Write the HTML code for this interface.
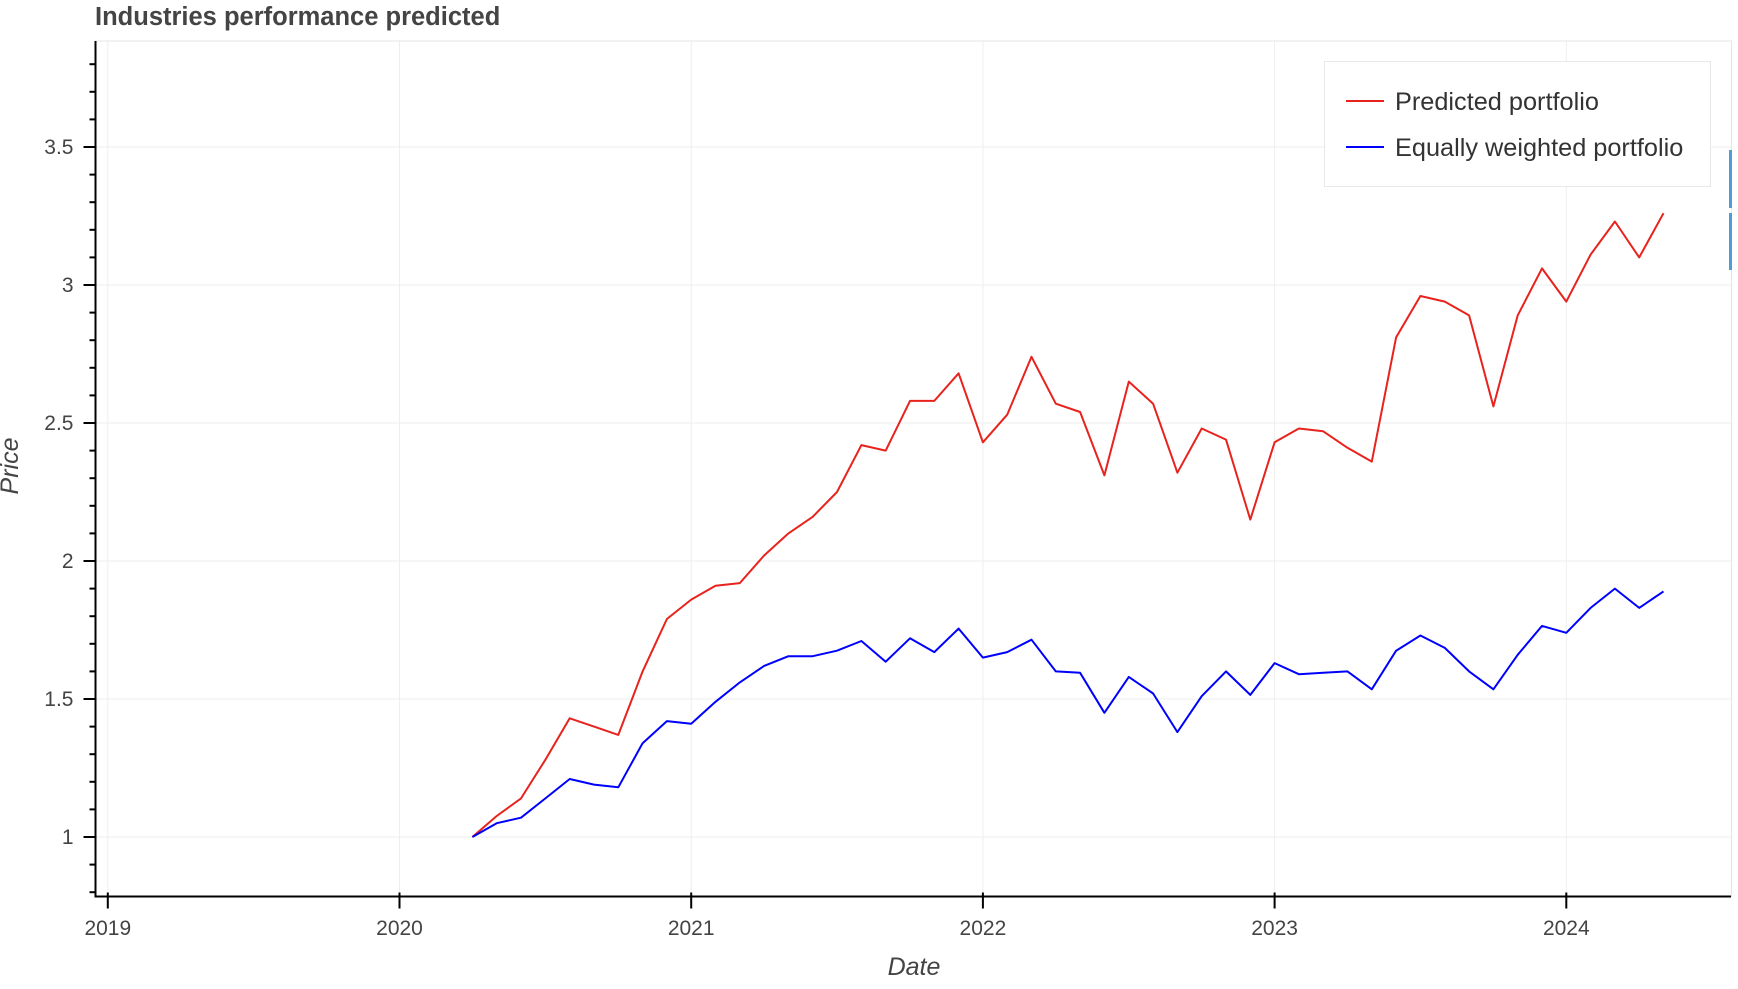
<!DOCTYPE html>
<html><head><meta charset="utf-8"><style>
html,body{margin:0;padding:0;background:#fff;}
svg text{font-family:"Liberation Sans",sans-serif;}
</style></head><body>
<svg id="chart" width="1738" height="984" xmlns="http://www.w3.org/2000/svg">
<text x="95" y="25" font-size="25.5" font-weight="bold" fill="#444">Industries performance predicted</text>
<g id="grid"></g>
<rect x="95.5" y="41" width="1636" height="855.5" fill="none" stroke="#e5e5e5"/>
<g id="series"></g>
<g id="axes"></g>
<text transform="translate(18,466) rotate(-90)" text-anchor="middle" font-size="25" font-style="italic" fill="#444">Price</text>
<text x="914" y="975" text-anchor="middle" font-size="25" font-style="italic" fill="#444">Date</text>
<g>
<rect x="1324.5" y="61.5" width="386" height="125" fill="#fff" stroke="#e8e8e8"/>
<line x1="1346" y1="101" x2="1384" y2="101" stroke="#e8221c" stroke-width="2"/>
<text x="1395" y="110" font-size="25.3" fill="#333">Predicted portfolio</text>
<line x1="1346" y1="147" x2="1384" y2="147" stroke="#0000ff" stroke-width="2"/>
<text x="1395" y="156" font-size="25.3" fill="#333">Equally weighted portfolio</text>
</g>
<rect x="1729" y="150" width="3" height="58" fill="#4a9fd8"/>
<rect x="1729" y="213" width="3" height="57" fill="#4a9fd8"/>
</svg>
<script>
const yTicks = [1, 1.5, 2, 2.5, 3, 3.5];
const yTickLabels = ["1", "1.5", "2", "2.5", "3", "3.5"];
const xTicks = [2019, 2020, 2021, 2022, 2023, 2024];
const xTickLabels = ["2019", "2020", "2021", "2022", "2023", "2024"];
const startYear = 2020, startMonth = 3;
const predicted = [1.00,1.076,1.14,1.28,1.43,1.40,1.37,1.60,1.79,1.86,1.91,1.92,2.02,2.10,2.16,2.25,2.42,2.40,2.58,2.58,2.68,2.43,2.53,2.74,2.57,2.54,2.31,2.65,2.57,2.32,2.48,2.44,2.15,2.43,2.48,2.47,2.41,2.36,2.81,2.96,2.94,2.89,2.56,2.89,3.06,2.94,3.11,3.23,3.10,3.26];
const equal = [1.00,1.05,1.07,1.14,1.21,1.19,1.18,1.34,1.42,1.41,1.49,1.56,1.62,1.655,1.655,1.675,1.71,1.635,1.72,1.67,1.755,1.65,1.67,1.715,1.60,1.595,1.45,1.58,1.52,1.38,1.51,1.60,1.515,1.63,1.59,1.595,1.60,1.535,1.675,1.73,1.685,1.60,1.535,1.66,1.765,1.74,1.83,1.90,1.83,1.89];

const NS = "http://www.w3.org/2000/svg";
const L = 95.5, R = 1731, T = 41, B = 896.5;
function yS(v){ return 837 - (v - 1) * 276; }
function xS(t){ return 399.5 + (t - 2020) * 291.7; }
function mk(tag, attrs, parent){ const e = document.createElementNS(NS, tag); for (const k in attrs) e.setAttribute(k, attrs[k]); parent.appendChild(e); return e; }
const grid = document.getElementById('grid'), axes = document.getElementById('axes'), series = document.getElementById('series');

yTicks.forEach((v, i) => {
  const g = mk('line', {x1:L, x2:R, y1:yS(v), y2:yS(v), stroke:'#eeeeee', 'stroke-width':1}, grid);
  
  
  const t = mk('line', {x1:L-12, x2:L, y1:yS(v), y2:yS(v), stroke:'#000', 'stroke-width':2}, axes);
  
  
  const lb = mk('text', {x:L-22, y:yS(v)+7, 'text-anchor':'end', 'font-size':21, fill:'#444'}, axes);
  lb.textContent = yTickLabels[i];
  
  
});
for (let v = 0.8; v <= 3.85; v += 0.1) {
  const y = yS(v);
  if (y < T || y > B) continue;
  const m = mk('line', {x1:L-6, x2:L, y1:y, y2:y, stroke:'#000', 'stroke-width':2}, axes);
  
  
}
xTicks.forEach((v, i) => {
  const x = xS(v);
  const g = mk('line', {x1:x, x2:x, y1:T, y2:B, stroke:'#eeeeee', 'stroke-width':1}, grid);
  
  
  const t = mk('line', {x1:x, x2:x, y1:B-4, y2:B+12, stroke:'#000', 'stroke-width':2}, axes);
  
  
  const lb = mk('text', {x:x, y:935, 'text-anchor':'middle', 'font-size':21, fill:'#444'}, axes);
  lb.textContent = xTickLabels[i];
  
  
});
const ya = mk('line', {x1:L, x2:L, y1:T, y2:B+1, stroke:'#000', 'stroke-width':2}, axes);


const xa = mk('line', {x1:L-1, x2:R, y1:B, y2:B, stroke:'#000', 'stroke-width':2}, axes);



function pts(arr){ return arr.map((v, i) => xS(startYear + (startMonth + i) / 12).toFixed(1) + ',' + yS(v).toFixed(1)).join(' '); }
const p1 = mk('polyline', {points:pts(predicted), fill:'none', stroke:'#e8221c', 'stroke-width':2, 'stroke-linejoin':'round'}, series);


const p2 = mk('polyline', {points:pts(equal), fill:'none', stroke:'#0000ff', 'stroke-width':2, 'stroke-linejoin':'round'}, series);


</script>
</body></html>
